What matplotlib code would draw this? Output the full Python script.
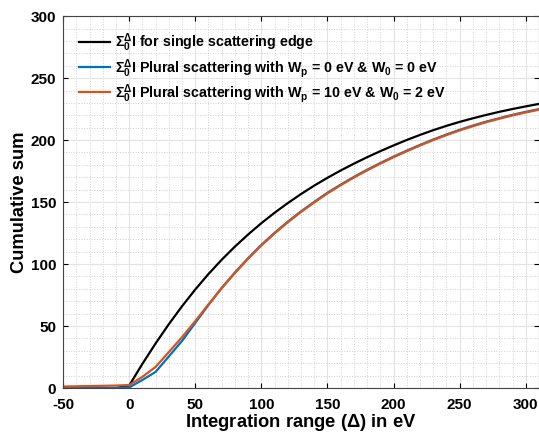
import matplotlib.pyplot as plt
from matplotlib.ticker import MultipleLocator

plt.rcParams['font.family'] = ['Liberation Sans', 'DejaVu Sans']
plt.rcParams['font.weight'] = 'bold'
plt.rcParams['axes.unicode_minus'] = False
plt.rcParams['mathtext.fontset'] = 'custom'
plt.rcParams['mathtext.rm'] = 'Liberation Sans:bold'
plt.rcParams['mathtext.it'] = 'Liberation Sans:bold'
plt.rcParams['mathtext.bf'] = 'Liberation Sans:bold'

# integration range (eV)
energy = [-50, -40, -30, -20, -10, 0, 10, 20, 30, 40, 50, 60, 70, 80, 90, 100,
          110, 120, 130, 140, 150, 160, 170, 180, 190, 200, 210, 220, 230, 240,
          250, 260, 270, 280, 290, 300, 310]

# cumulative sums
single = [0, 0, 0, 0, 0, 2, 19.5, 36, 51.5, 66, 79.5, 92, 103.5, 114.1, 123.9, 133,
          141.4, 149.2, 156.5, 163.3, 169.6, 175.5, 181, 186.2, 191.1, 195.7, 200.1, 204.2, 208, 211.5,
          214.7, 217.6, 220.3, 222.8, 225.1, 227.2, 229.2]
plural_0 = [0, 0, 0, 0, 0, 0.5, 6.5, 13, 25.5, 38, 52.5, 67, 80.8, 93.2, 104.8, 115.5,
            125.2, 134.2, 142.5, 150.2, 157.5, 164.1, 170.3, 176.1, 181.5, 186.7, 191.5, 196.1, 200.5, 204.5,
            208.3, 211.7, 214.9, 217.7, 220.4, 222.8, 225]
plural_10 = [1.2, 1.4, 1.6, 1.8, 2.0, 2.4, 9, 17, 29, 41, 54, 67.5, 80.5, 92.8, 104.3, 115,
             124.7, 133.7, 142, 149.7, 157, 163.6, 169.8, 175.6, 181, 186.2, 191, 195.6, 200, 204,
             207.8, 211.2, 214.4, 217.2, 219.9, 222.3, 224.5]

fig = plt.figure(figsize=(5.39, 4.36), dpi=100)
ax = fig.add_axes([0.117, 0.110, 0.883, 0.853])

ax.axhline(0, color='red', linestyle=':', linewidth=0.8)
ax.plot(energy, single, color='black', linewidth=1.6,
        label=r'$\Sigma_0^\Delta$I for single scattering edge')
ax.plot(energy, plural_0, color='#0072BD', linewidth=1.6,
        label=r'$\Sigma_0^\Delta$I Plural scattering with W$_\mathrm{p}$ = 0 eV & W$_\mathrm{0}$ = 0 eV')
ax.plot(energy, plural_10, color='#D95319', linewidth=1.6,
        label=r'$\Sigma_0^\Delta$I Plural scattering with W$_\mathrm{p}$ = 10 eV & W$_\mathrm{0}$ = 2 eV')

ax.set_xlim(-50, 310)
ax.set_ylim(0, 300)
ax.xaxis.set_major_locator(MultipleLocator(50))
ax.yaxis.set_major_locator(MultipleLocator(50))
ax.xaxis.set_minor_locator(MultipleLocator(10))
ax.yaxis.set_minor_locator(MultipleLocator(10))
ax.grid(which='major', color='#e3e3e3', linewidth=0.8)
ax.grid(which='minor', color='#d0d0d0', linestyle=':', linewidth=0.7)
ax.set_axisbelow(True)
ax.tick_params(which='both', direction='in', top=True, right=True, labelsize=11)
ax.tick_params(axis='x', pad=7)
ax.tick_params(axis='y', pad=5)
ax.tick_params(which='minor', length=0)
for s in ax.spines.values():
    s.set_color('#444444')

ax.set_xlabel(r'Integration range ($\Delta$) in eV', fontsize=13.2, fontweight='bold', labelpad=0)
ax.set_ylabel('Cumulative sum', fontsize=13.2, fontweight='bold', labelpad=2)

ax.legend(loc='upper left', frameon=False, fontsize=10.3, handlelength=2.2,
          handletextpad=0.3, labelspacing=0.15, borderaxespad=0.7)

fig.savefig('out.png')
